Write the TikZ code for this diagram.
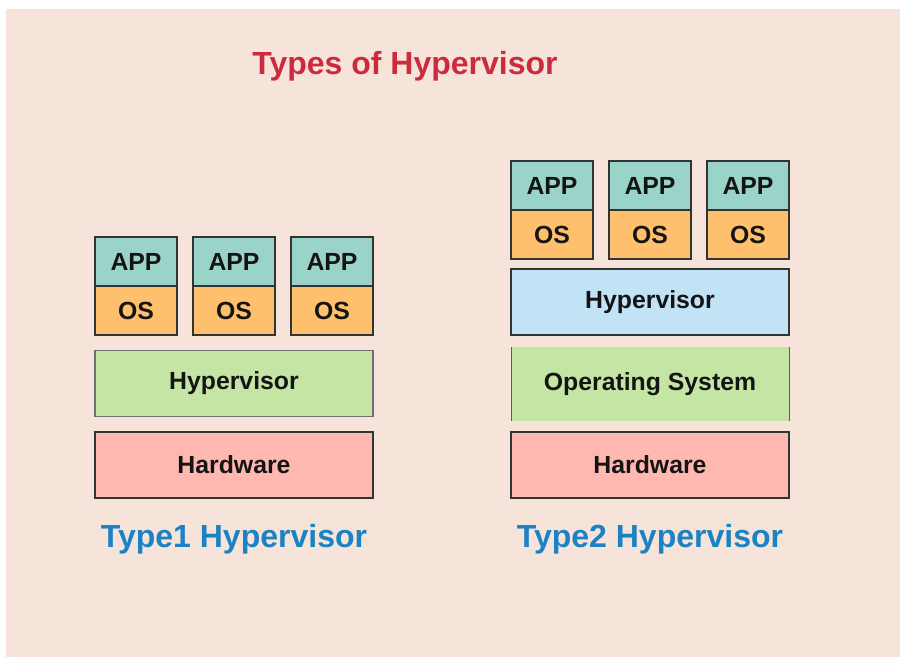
\documentclass[tikz,border=0pt]{standalone}
\usepackage{fontspec}
\setmainfont{Liberation Sans}
\definecolor{bgpeach}{HTML}{F6E4DA}
\definecolor{appteal}{HTML}{9AD4C8}
\definecolor{osorange}{HTML}{FFC06E}
\definecolor{hvgreen}{HTML}{C5E5A5}
\definecolor{hvblue}{HTML}{C2E2F5}
\definecolor{hwpink}{HTML}{FFB8B0}
\definecolor{titlered}{HTML}{CC2B3E}
\definecolor{labelblue}{HTML}{1B82C4}
\definecolor{edge}{HTML}{333333}
\tikzset{
  layer/.style={draw=edge, line width=1.4pt, inner sep=0pt, outer sep=0pt,
    minimum width=278pt, minimum height=66pt, text=black!92,
    font=\fontsize{24.8}{28}\selectfont\bfseries},
  cell/.style={layer, minimum width=82pt, minimum height=49pt},
  appcell/.style={cell, fill=appteal},
  oscell/.style={cell, fill=osorange},
  caption/.style={font=\fontsize{32}{38}\selectfont\bfseries, text=labelblue}
}
\begin{document}
\begin{tikzpicture}[x=1pt,y=-1pt]
\useasboundingbox (0,0) rectangle (900,661);
\fill[white] (0,0) rectangle (900,661);
\fill[bgpeach] (6,9) rectangle (900,657);

\node[font=\fontsize{32}{38}\selectfont\bfseries, text=titlered] (title) at (405,66) {Types of Hypervisor};

% Type 1: guests run directly on the hypervisor
\foreach \i/\x in {1/136,2/234,3/332}{
  \node[appcell] (a1\i) at (\x,261.5) {APP};
  \node[oscell] (o1\i) at (\x,310.5) {OS};
}
\node[layer, fill=hvgreen, draw=edge!70] (hv1) at (234,383.5) {Hypervisor};
\node[layer, fill=hwpink, minimum height=66pt] (hw1) at (234,465) {Hardware};
\node[caption] (cap1) at (234,539) {Type1 Hypervisor};

% Type 2: hypervisor hosted on an operating system
\foreach \i/\x in {1/552,2/650,3/748}{
  \node[appcell] (a2\i) at (\x,185.5) {APP};
  \node[oscell] (o2\i) at (\x,234.5) {OS};
}
\node[layer, fill=hvblue] (hv2) at (650,302) {Hypervisor};
\node[layer, fill=hvgreen, draw=none, minimum height=74pt] (os2) at (650,384) {Operating System};
\draw[edge!80, line width=1pt] (os2.north west) -- (os2.south west)
  (os2.north east) -- (os2.south east);
\node[layer, fill=hwpink] (hw2) at (650,465) {Hardware};
\node[caption] (cap2) at (650,539) {Type2 Hypervisor};
\end{tikzpicture}
\end{document}
